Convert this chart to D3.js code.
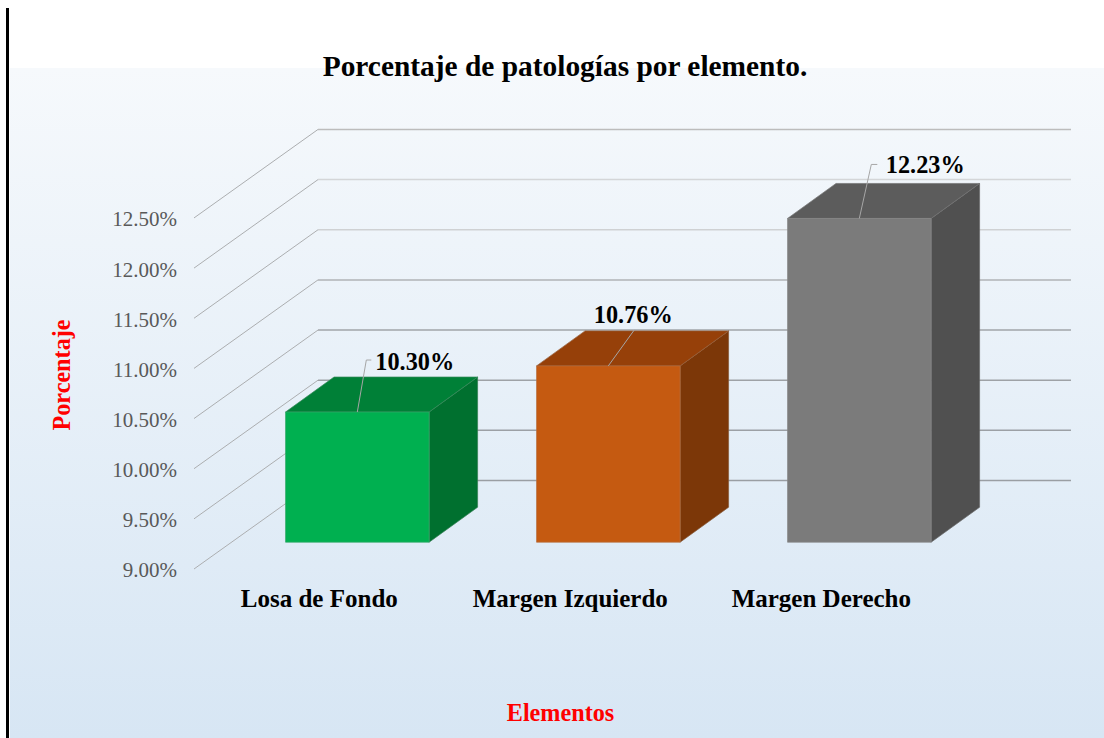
<!DOCTYPE html>
<html><head><meta charset="utf-8">
<script src="https://cdn.jsdelivr.net/npm/d3@7/dist/d3.min.js"></script>
<style>html,body{margin:0;padding:0;background:#fff;overflow:hidden}svg{display:block}text{font-family:"Liberation Serif",serif}</style>
</head><body><svg id="c" width="1104" height="738"></svg>
<script>
const categories = ["Losa de Fondo", "Margen Izquierdo", "Margen Derecho"];
const values = [10.30, 10.76, 12.23];
const valueLabels = ["10.30%", "10.76%", "12.23%"];
const tickValues = [9, 9.5, 10, 10.5, 11, 11.5, 12, 12.5];
const titleText = "Porcentaje de patologías por elemento.";
const yTitle = "Porcentaje";
const xTitle = "Elementos";

const faceColors = [
  {front:"#00b050", top:"#008037", side:"#00702f"},
  {front:"#c55a11", top:"#964009", side:"#7c3708"},
  {front:"#7b7b7b", top:"#5c5c5c", side:"#505050"}
];
const leaders = [[9,-52,14,-52],[26,-36,26,-36],[12,-54,18,-54]];
const labelOff = [[18,-49],[-14.5,-50],[26.5,-52]];

const svg = d3.select("#c");
const defs = svg.append("defs");
const g = defs.append("linearGradient").attr("id","bg").attr("x1",0).attr("y1",0).attr("x2",0).attr("y2",1);
g.append("stop").attr("offset","0").attr("stop-color","#f6f9fc");
g.append("stop").attr("offset","1").attr("stop-color","#d7e6f4");
svg.append("rect").attr("x",10).attr("y",68).attr("width",1094).attr("height",670).attr("fill","url(#bg)");
svg.append("rect").attr("x",6).attr("y",8).attr("width",3).attr("height",730).attr("fill","#000");

const pxPerUnit = 100.3;
const y = d3.scaleLinear().domain([9,12.5]).range([569,569-3.5*pxPerUnit]);
const backDx = 124, backDy = -88.5;
const barPlane = 0.305;
const depthX = 48.5, depthY = -35;
const x = d3.scaleBand().domain(categories).range([194+backDx*barPlane,194+backDx*barPlane+753]).paddingInner(0.428).paddingOuter(0.214);
const barY = v => y(v)+backDy*barPlane;

// gridlines
const gridColor = d3.scaleLinear().domain([9,10.5,11,11.5,12,12.5]).range(["#9a9ea3","#a0a4a8","#b0b3b6","#cfd1d3","#d4d6d8","#bcbcbc"]);
const diag = svg.append("g").attr("fill","none").attr("stroke-width",1).attr("stroke","#acaeb0");
diag.selectAll("line").data(tickValues).join("line")
  .attr("x1",194).attr("y1",d=>y(d)).attr("x2",194+backDx).attr("y2",d=>y(d)+backDy);
const grid = svg.append("g").attr("fill","none").attr("stroke-width",1.5);
grid.selectAll("line").data(tickValues).join("line")
  .attr("stroke",d=>gridColor(d))
  .attr("x1",194+backDx).attr("y1",d=>y(d)+backDy).attr("x2",1071).attr("y2",d=>y(d)+backDy);

// axis labels
const ax = svg.append("g").attr("transform","translate(177,1.2)")
  .call(d3.axisLeft(y).tickValues(tickValues).tickSize(0).tickPadding(0).tickFormat(d=>d3.format(".2f")(d)+"%"));
ax.select(".domain").remove();
ax.selectAll("text").attr("font-size",21).attr("fill","#595959").style("font-family",'"Liberation Serif",serif');

// bars
const bars = svg.append("g").selectAll("g").data(values).join("g");
bars.each(function(v,i){
  const s=d3.select(this), x0=x(categories[i]), w=x.bandwidth(), t=barY(v)+.4, b=barY(9)+.2, c=faceColors[i];
  const poly=(pts,f)=>s.append("polygon").attr("points",pts.map(p=>p.join(",")).join(" ")).attr("fill",f).attr("stroke",d3.interpolateRgb(f,"#9a9a9a")(.35)).attr("stroke-width",.7);
  poly([[x0+w,t],[x0+w+depthX,t+depthY],[x0+w+depthX,b+depthY],[x0+w,b]],c.side);
  poly([[x0,t],[x0+depthX,t+depthY],[x0+w+depthX,t+depthY],[x0+w,t]],c.top);
  poly([[x0,t],[x0+w,t],[x0+w,b],[x0,b]],c.front);
  const m=x0+w/2, l=leaders[i];
  s.append("path").attr("fill","none").attr("stroke","#a6a6a6").attr("stroke-width",1)
    .attr("d",`M${m},${t}L${m+l[0]},${t+l[1]}L${m+l[2]},${t+l[3]}`);
  s.append("text").attr("x",m+labelOff[i][0]).attr("y",t+labelOff[i][1]+7).attr("font-size",24.3).attr("font-weight","bold").attr("fill","#000").text(valueLabels[i]);
});

// category labels
svg.append("g").selectAll("text").data(categories).join("text")
  .attr("x",d=>x(d)+x.bandwidth()/2-38).attr("y",606.7).attr("text-anchor","middle")
  .attr("font-size",25).attr("font-weight","bold").attr("fill","#000").text(d=>d);

svg.append("text").attr("x",565).attr("y",76).attr("text-anchor","middle").attr("font-size",29.4).attr("font-weight","bold").attr("fill","#000").text(titleText);
svg.append("text").attr("transform","translate(70,375) rotate(-90)").attr("text-anchor","middle").attr("font-size",24.2).attr("font-weight","bold").attr("fill","#ff0000").text(yTitle);
svg.append("text").attr("x",560.5).attr("y",721).attr("text-anchor","middle").attr("font-size",24.2).attr("font-weight","bold").attr("fill","#ff0000").text(xTitle);
</script></body></html>
